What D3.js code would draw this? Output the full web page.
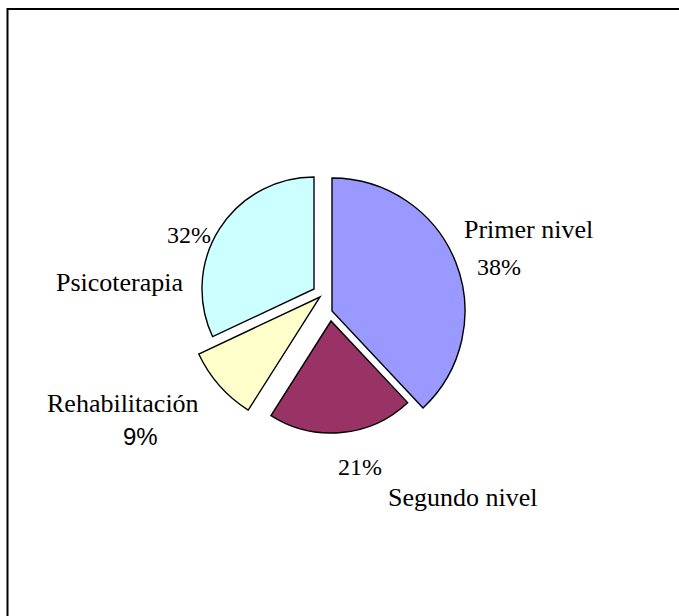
<!DOCTYPE html>
<html>
<head>
<meta charset="utf-8">
<script src="https://cdn.jsdelivr.net/npm/d3@7"></script>
<style>
  html, body { margin: 0; padding: 0; background: #fff; overflow: hidden; }
  svg { display: block; }
  .lbl { font-family: "Liberation Serif", "Times New Roman", serif; fill: #000; }
  .lbl.name { font-size: 26px; }
  .lbl.pct { font-size: 24px; }
  .lbl.pct.sans { font-family: "Liberation Sans", Arial, sans-serif; font-size: 24px; }
</style>
</head>
<body>
<div id="chart"></div>
<script>
// chart values
const categories = ['Primer nivel', 'Segundo nivel', 'Rehabilitación', 'Psicoterapia'];
const shares = [38, 21, 9, 32];
const colors = ['#9999ff', '#993366', '#ffffcc', '#ccffff'];

// how each slice was pulled out of the pie (dx, dy) and its radius
const nudges = [[7, 6], [6, 16], [-5, -8], [-11, -16]];
const radii = [133, 112, 134, 112];

// where the name / percent texts sit, relative to the pie centre
const nameSpots = [[139, -67], [63, 201], [-278, 107], [-269, -14]];
const pctSpots = [[152, -30], [13, 170], [-202, 140], [-158, -62]];
const pctSans = [false, false, true, false];

const width = 679;
const height = 616;
const center = { x: 325, y: 305 };

const rows = categories.map((name, i) => ({
  name,
  share: shares[i],
  color: colors[i],
  nudge: nudges[i],
  r: radii[i],
}));

const svg = d3.select('#chart')
  .append('svg')
  .attr('width', width)
  .attr('height', height);

// frame (only left and top edges fall inside the picture)
svg.append('path')
  .attr('d', `M7.5,${height} V9 H${width}`)
  .attr('fill', 'none')
  .attr('stroke', '#000')
  .attr('stroke-width', 2);

const pie = d3.pie()
  .sort(null)
  .value((d) => d.share);

const arcs = pie(rows);

const slices = svg.append('g')
  .attr('class', 'slices')
  .attr('transform', `translate(${center.x}, ${center.y})`);

slices.selectAll('path')
  .data(arcs)
  .join('path')
  .attr('transform', (d) => `translate(${d.data.nudge[0]}, ${d.data.nudge[1]})`)
  .attr('d', (d) => d3.arc().innerRadius(0).outerRadius(d.data.r)(d))
  .attr('fill', (d) => d.data.color)
  .attr('stroke', '#000')
  .attr('stroke-width', 1.4)
  .attr('stroke-linejoin', 'miter');

const labels = svg.append('g')
  .attr('class', 'labels')
  .attr('transform', `translate(${center.x}, ${center.y})`);

labels.selectAll('text.name')
  .data(arcs)
  .join('text')
  .attr('class', 'lbl name')
  .attr('x', (d, i) => nameSpots[i][0])
  .attr('y', (d, i) => nameSpots[i][1])
  .text((d) => d.data.name);

labels.selectAll('text.pct')
  .data(arcs)
  .join('text')
  .attr('class', (d, i) => pctSans[i] ? 'lbl pct sans' : 'lbl pct')
  .attr('x', (d, i) => pctSpots[i][0])
  .attr('y', (d, i) => pctSpots[i][1])
  .text((d) => d.data.share + '%');
</script>
</body>
</html>
